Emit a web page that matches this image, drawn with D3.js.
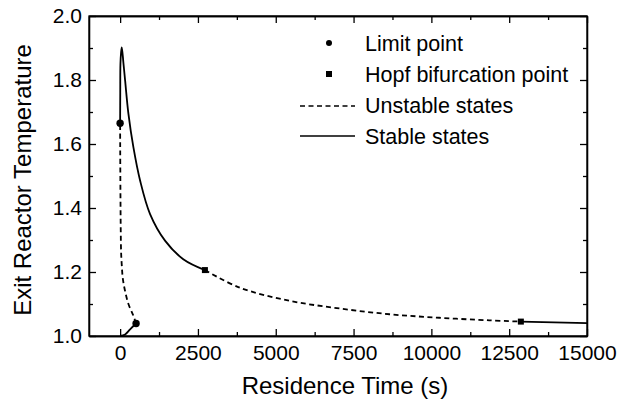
<!DOCTYPE html>
<meta charset='utf-8'>
<style>
body { margin: 0; background: #fff; }
text { font-family: Arial, 'Liberation Sans', sans-serif; fill: #000; }
.axis path, .axis line { stroke: #000; stroke-width: 1.3px; }
.axis text { font-size: 21px; }
</style>
<body>
<div id='chart'></div>
<script src='https://d3js.org/d3.v7.min.js'></script>
<script>
// data: [residence time (s), exit temperature]
var stableLower = [[0, 1.0], [160, 1.005], [320, 1.021], [513, 1.039]];
var unstableLower = [[513, 1.039], [427, 1.063], [267, 1.10], [160, 1.14], [86, 1.18],
    [54, 1.22], [32, 1.26], [20, 1.33], [12, 1.42], [6, 1.52], [2, 1.6], [0, 1.665]];
var stableUpper = [[0, 1.665], [4, 1.76], [10, 1.85], [30, 1.885], [54, 1.902],
    [107, 1.852], [160, 1.799], [266, 1.695], [426, 1.59], [641, 1.486], [962, 1.381],
    [1442, 1.298], [2029, 1.24], [2724, 1.206]];
var unstableUpper = [[2724, 1.206], [3846, 1.151], [5449, 1.11], [7051, 1.086],
    [8654, 1.068], [10256, 1.057], [11859, 1.049], [12875, 1.045]];
var stableTail = [[12875, 1.045], [15000, 1.040]];
var limitPoints = [[513, 1.039], [0, 1.665]];
var hopfPoints = [[2724, 1.206], [12875, 1.045]];

var xTicks = [0, 2500, 5000, 7500, 10000, 12500, 15000];
var xMinor = [1250, 3750, 6250, 8750, 11250, 13750];
var yTicks = [1.0, 1.2, 1.4, 1.6, 1.8, 2.0];
var yMinor = [1.1, 1.3, 1.5, 1.7, 1.9];
var legendLabels = ['Limit point', 'Hopf bifurcation point', 'Unstable states', 'Stable states'];

var width = 630, height = 405;
var margin = {left: 89, right: 43, top: 16, bottom: 69};

var svg = d3.select('#chart').append('svg')
    .attr('width', width)
    .attr('height', height);

var x = d3.scaleLinear().domain([-1000, 15000]).range([margin.left, width - margin.right]);
var y = d3.scaleLinear().domain([1.0, 2.0]).range([height - margin.bottom, margin.top]);

var x0 = margin.left, x1 = width - margin.right, y0 = height - margin.bottom, y1 = margin.top;

// axes (inward ticks on all four sides)
svg.append('g').attr('class', 'axis').attr('transform', 'translate(0,' + y0 + ')')
    .call(d3.axisBottom(x).tickValues(xTicks).tickSize(-7).tickSizeOuter(0).tickPadding(9).tickFormat(d3.format('d')));
svg.append('g').attr('class', 'axis').attr('transform', 'translate(0,' + y0 + ')')
    .call(d3.axisBottom(x).tickValues(xMinor).tickSize(-4).tickSizeOuter(0).tickFormat(''));
svg.append('g').attr('class', 'axis').attr('transform', 'translate(0,' + y1 + ')')
    .call(d3.axisTop(x).tickValues(xTicks).tickSize(-7).tickSizeOuter(0).tickFormat(''));
svg.append('g').attr('class', 'axis').attr('transform', 'translate(0,' + y1 + ')')
    .call(d3.axisTop(x).tickValues(xMinor).tickSize(-4).tickSizeOuter(0).tickFormat(''));

svg.append('g').attr('class', 'axis').attr('transform', 'translate(' + x0 + ',0)')
    .call(d3.axisLeft(y).tickValues(yTicks).tickSize(-7).tickSizeOuter(0).tickPadding(7).tickFormat(d3.format('.1f')));
svg.append('g').attr('class', 'axis').attr('transform', 'translate(' + x0 + ',0)')
    .call(d3.axisLeft(y).tickValues(yMinor).tickSize(-4).tickSizeOuter(0).tickFormat(''));
svg.append('g').attr('class', 'axis').attr('transform', 'translate(' + x1 + ',0)')
    .call(d3.axisRight(y).tickValues(yTicks).tickSize(-7).tickSizeOuter(0).tickFormat(''));
svg.append('g').attr('class', 'axis').attr('transform', 'translate(' + x1 + ',0)')
    .call(d3.axisRight(y).tickValues(yMinor).tickSize(-4).tickSizeOuter(0).tickFormat(''));

svg.append('rect')
    .attr('x', x0).attr('y', y1)
    .attr('width', x1 - x0).attr('height', y0 - y1)
    .attr('fill', 'none').attr('stroke', '#000').attr('stroke-width', 1.3);

// curves
var line = d3.line()
    .x(function(d) { return x(d[0]); })
    .y(function(d) { return y(d[1]); })
    .curve(d3.curveCatmullRom.alpha(0.5));

[stableLower, stableUpper, stableTail].forEach(function(s) {
    svg.append('path').datum(s).attr('d', line)
        .attr('fill', 'none').attr('stroke', '#000').attr('stroke-width', 1.8);
});
[unstableLower, unstableUpper].forEach(function(s) {
    svg.append('path').datum(s).attr('d', line)
        .attr('fill', 'none').attr('stroke', '#000').attr('stroke-width', 1.8)
        .attr('stroke-dasharray', '5,3.5');
});

svg.selectAll('.limit').data(limitPoints).enter().append('circle')
    .attr('cx', function(d) { return x(d[0]); })
    .attr('cy', function(d) { return y(d[1]); })
    .attr('r', 3.7).attr('fill', '#000');

svg.selectAll('.hopf').data(hopfPoints).enter().append('rect')
    .attr('x', function(d) { return x(d[0]) - 3; })
    .attr('y', function(d) { return y(d[1]) - 3; })
    .attr('width', 6).attr('height', 6).attr('fill', '#000');

// legend
var legY = [43, 74, 105, 136];
var leg = svg.append('g');
leg.append('circle').attr('cx', 329).attr('cy', legY[0]).attr('r', 3).attr('fill', '#000');
leg.append('rect').attr('x', 326).attr('y', legY[1] - 3).attr('width', 6).attr('height', 6).attr('fill', '#000');
leg.append('line').attr('x1', 300).attr('x2', 355).attr('y1', legY[2] + 1).attr('y2', legY[2] + 1)
    .attr('stroke', '#000').attr('stroke-width', 1.3).attr('stroke-dasharray', '5,3.5');
leg.append('line').attr('x1', 300).attr('x2', 355).attr('y1', legY[3]).attr('y2', legY[3])
    .attr('stroke', '#000').attr('stroke-width', 1.5);
leg.selectAll('text').data(legendLabels).enter().append('text')
    .attr('x', 365)
    .attr('y', function(d, i) { return legY[i]; })
    .attr('dy', '0.35em')
    .style('font-size', '21.5px')
    .text(function(d) { return d; });

// axis titles
svg.append('text')
    .attr('x', 345).attr('y', 394)
    .attr('text-anchor', 'middle')
    .style('font-size', '24px')
    .text('Residence Time (s)');
svg.append('text')
    .attr('transform', 'translate(31,180) rotate(-90)')
    .attr('text-anchor', 'middle')
    .style('font-size', '24px')
    .text('Exit Reactor Temperature');
</script>
